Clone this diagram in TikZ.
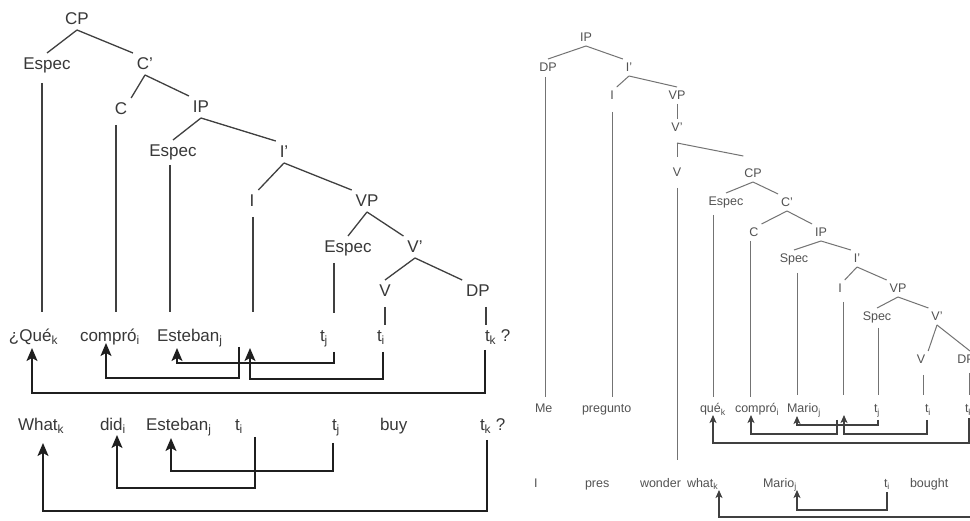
\documentclass[tikz,border=0pt]{standalone}
\usepackage{fontspec}
\setmainfont{Liberation Sans}
\usetikzlibrary{arrows.meta}
\newcommand{\sbx}[1]{\textsubscript{#1}}
\begin{document}
\begin{tikzpicture}[x=1pt,y=-1pt,
  lt/.style={font=\fontsize{17}{20}\selectfont, text=black!78, inner sep=0pt,
    outer xsep=4pt, outer ysep=5pt, text height=12pt, text depth=0pt, anchor=base},
  lw/.style={lt, anchor=base west, outer sep=0pt},
  rt/.style={font=\fontsize{12.5}{15}\selectfont, text=black!68, inner sep=0pt,
    outer xsep=3pt, outer ysep=4pt, text height=9pt, text depth=0pt, anchor=base},
  rw/.style={rt, anchor=base west, outer sep=0pt},
  ledge/.style={draw=black!75, line width=1.3pt},
  redge/.style={draw=black!55, line width=1pt},
  larr/.style={draw=black!88, line width=1.8pt, -{Stealth[length=13pt,width=11pt,inset=3pt]}},
  rarr/.style={draw=black!75, line width=1.3pt, -{Stealth[length=8pt,width=7pt,inset=2pt]}}
]
\useasboundingbox (0,0) rectangle (970,521);
\fill[white] (0,0) rectangle (970,521);
\clip (0,0) rectangle (970,521);

% ---------------- left tree ----------------
\node[lt] (lCP) at (77,25) {CP};
\node[lt] (lSpecC) at (47,70) {Espec};
\node[lt] (lCb) at (145,70) {C'};
\node[lt] (lC) at (121,115) {C};
\node[lt] (lIP) at (201,113) {IP};
\node[lt] (lSpecI) at (173,157) {Espec};
\node[lt] (lIb) at (284,158) {I'};
\node[lt] (lI) at (252,207) {I};
\node[lt] (lVP) at (367,207) {VP};
\node[lt] (lSpecV) at (348,253) {Espec};
\node[lt] (lVb) at (415,253) {V'};
\node[lt] (lV) at (385,297) {V};
\node[lt] (lDP) at (478,297) {DP};

\draw[ledge] (lCP.south) -- (lSpecC.north);
\draw[ledge] (lCP.south) -- (lCb.north west);
\draw[ledge] (lCb.south) -- (lC.north east);
\draw[ledge] (lCb.south) -- (lIP.north west);
\draw[ledge] (lIP.south) -- (lSpecI.north);
\draw[ledge] (lIP.south) -- (lIb.north west);
\draw[ledge] (lIb.south) -- (lI.north east);
\draw[ledge] (lIb.south) -- (lVP.north west);
\draw[ledge] (lVP.south) -- (lSpecV.north);
\draw[ledge] (lVP.south) -- (lVb.north west);
\draw[ledge] (lVb.south) -- (lV.north);
\draw[ledge] (lVb.south) -- (lDP.north west);

% row 1 (Spanish)
\node[lw] (lQue) at (9,342) {¿Qué\sbx{k}};
\node[lw] (lComp) at (80,342) {compró\sbx{i}};
\node[lw] (lEst) at (157,342) {Esteban\sbx{j}};
\node[lw] (lTj) at (320,342) {t\sbx{j}};
\node[lw] (lTi) at (377,342) {t\sbx{i}};
\node[lw] (lTk) at (485,342) {t\sbx{k} ?};
\coordinate (lIpos) at (245,342);

% trace lines from the tree to row 1
\draw[ledge] ([shift={(-5,13)}]lSpecC.base) -- ++(0,229);
\draw[ledge] ([shift={(-5,10)}]lC.base) -- ++(0,187);
\draw[ledge] ([shift={(-3,8)}]lSpecI.base) -- ++(0,147);
\draw[ledge] ([shift={(1,10)}]lI.base) -- ++(0,95);
\draw[ledge] ([shift={(-14,10)}]lSpecV.base) -- ++(0,50);
\draw[ledge] ([shift={(0,10)}]lV.base) -- ++(0,18);
\draw[ledge] ([shift={(8,10)}]lDP.base) -- ++(0,18);

% movement arrows, row 1
\draw[larr] ([shift={(0,8)}]lTk.base west) -- ++(0,43) -| ([shift={(23,6)}]lQue.base west);
\draw[larr] ([shift={(-6,5)}]lIpos) -- ++(0,31) -| ([shift={(26,1)}]lComp.base west);
\draw[larr] ([shift={(6,10)}]lTi.base west) -- ++(0,27) -| ([shift={(5,6)}]lIpos);
\draw[larr] ([shift={(14,10)}]lTj.base west) -- ++(0,11) -| ([shift={(20,6)}]lEst.base west);

% row 2 (English)
\node[lw] (lWhat) at (18,431) {What\sbx{k}};
\node[lw] (lDid) at (100,431) {did\sbx{i}};
\node[lw] (lEst2) at (146,431) {Esteban\sbx{j}};
\node[lw] (lTi2) at (235,431) {t\sbx{i}};
\node[lw] (lTj2) at (332,431) {t\sbx{j}};
\node[lw] (lBuy) at (380,431) {buy};
\node[lw] (lTk2) at (480,431) {t\sbx{k} ?};

\draw[larr] ([shift={(7,9)}]lTk2.base west) -- ++(0,71) -| ([shift={(25,12)}]lWhat.base west);
\draw[larr] ([shift={(20,6)}]lTi2.base west) -- ++(0,51) -| ([shift={(17,4)}]lDid.base west);
\draw[larr] ([shift={(1,12)}]lTj2.base west) -- ++(0,28) -| ([shift={(25,7)}]lEst2.base west);

% ---------------- right tree ----------------
\node[rt] (rIP) at (586,42) {IP};
\node[rt] (rDP) at (548,72) {DP};
\node[rt] (rIb) at (629,72) {I'};
\node[rt] (rI) at (612,100) {I};
\node[rt] (rVP) at (677,100) {VP};
\node[rt] (rVb) at (677,132) {V'};
\node[rt] (rV) at (677,177) {V};
\node[rt] (rCP) at (753,178) {CP};
\node[rt] (rSpecC) at (726,206) {Espec};
\node[rt] (rCb) at (787,207) {C'};
\node[rt] (rC) at (754,237) {C};
\node[rt] (rIP2) at (821,237) {IP};
\node[rt] (rSpec) at (794,263) {Spec};
\node[rt] (rIb2) at (857,263) {I'};
\node[rt] (rI2) at (840,293) {I};
\node[rt] (rVP2) at (898,293) {VP};
\node[rt] (rSpec2) at (877,321) {Spec};
\node[rt] (rVb2) at (937,321) {V'};
\node[rt] (rV2) at (921,364) {V};
\node[rt] (rDP2) at (966,364) {DP};

\draw[redge] (rIP.south) -- (rDP.north);
\draw[redge] (rIP.south) -- (rIb.north west);
\draw[redge] (rIb.south) -- (rI.north east);
\draw[redge] (rIb.south) -- (rVP.north);
\draw[redge] (rVP.south) -- (rVb.north);
\draw[redge] ([shift={(0,7)}]rVb.south) coordinate (rvk) -- ([shift={(0,-7)}]rV.north);
\draw[redge] (rvk) -- ([shift={(2,-9)}]rCP.north west);
\draw[redge] (rCP.south) -- (rSpecC.north);
\draw[redge] (rCP.south) -- (rCb.north west);
\draw[redge] (rCb.south) -- (rC.north east);
\draw[redge] (rCb.south) -- (rIP2.north west);
\draw[redge] (rIP2.south) -- (rSpec.north);
\draw[redge] (rIP2.south) -- (rIb2.north west);
\draw[redge] (rIb2.south) -- (rI2.north east);
\draw[redge] (rIb2.south) -- (rVP2.north west);
\draw[redge] (rVP2.south) -- (rSpec2.north);
\draw[redge] (rVP2.south) -- (rVb2.north west);
\draw[redge] (rVb2.south) -- (rV2.north east);
\draw[redge] (rVb2.south) -- ([shift={(4,0)}]rDP2.north);

% row 1 right
\node[rw] (rMe) at (535,413) {Me};
\node[rw] (rPreg) at (582,413) {pregunto};
\node[rw] (rQue) at (700,413) {qué\sbx{k}};
\node[rw] (rComp) at (735,413) {compró\sbx{i}};
\node[rw] (rMario) at (787,413) {Mario\sbx{j}};
\node[rw] (rTj) at (874,413) {t\sbx{j}};
\node[rw] (rTi) at (925,413) {t\sbx{i}};
\node[rw] (rTk) at (965,413) {t\sbx{k}};
\coordinate (rIpos) at (840,413);

% row 2 right
\node[rw] (rI3) at (534,487) {I};
\node[rw] (rPres) at (585,487) {pres};
\node[rw] (rWonder) at (640,487) {wonder};
\node[rw] (rWhat) at (687,487) {what\sbx{k}};
\node[rw] (rMario2) at (763,487) {Mario\sbx{j}};
\node[rw] (rTi2) at (884,487) {t\sbx{i}};
\node[rw] (rBought) at (910,487) {bought};

% trace lines right
\draw[redge] ([shift={(-3,5)}]rDP.base) -- ++(0,320);
\draw[redge] ([shift={(0,12)}]rI.base) -- ++(0,285);
\draw[redge] ([shift={(0,11)}]rV.base) -- ++(0,272);
\draw[redge] ([shift={(-13,9)}]rSpecC.base) -- ++(0,182);
\draw[redge] ([shift={(-4,4)}]rC.base) -- ++(0,156);
\draw[redge] ([shift={(3,10)}]rSpec.base) -- ++(0,122);
\draw[redge] ([shift={(3,9)}]rI2.base) -- ++(0,93);
\draw[redge] ([shift={(1,7)}]rSpec2.base) -- ++(0,67);
\draw[redge] ([shift={(2,11)}]rV2.base) -- ++(0,20);
\draw[redge] ([shift={(3,9)}]rDP2.base) -- ++(0,22);

% movement arrows right
\draw[rarr] ([shift={(4,5)}]rTk.base west) -- ++(0,25) -| ([shift={(13,2)}]rQue.base west);
\draw[rarr] ([shift={(-3,7)}]rIpos) -- ++(0,14) -| ([shift={(16,2)}]rComp.base west);
\draw[rarr] ([shift={(2,7)}]rTi.base west) -- ++(0,14) -| ([shift={(4,2)}]rIpos);
\draw[rarr] ([shift={(4,7)}]rTj.base west) -- ++(0,5) -| ([shift={(10,3)}]rMario.base west);
\draw[rarr] ([shift={(70,30)}]rBought.base west) -| ([shift={(32,3)}]rWhat.base west);
\draw[rarr] ([shift={(3,5)}]rTi2.base west) -- ++(0,18) -| ([shift={(34,3)}]rMario2.base west);
\end{tikzpicture}
\end{document}
